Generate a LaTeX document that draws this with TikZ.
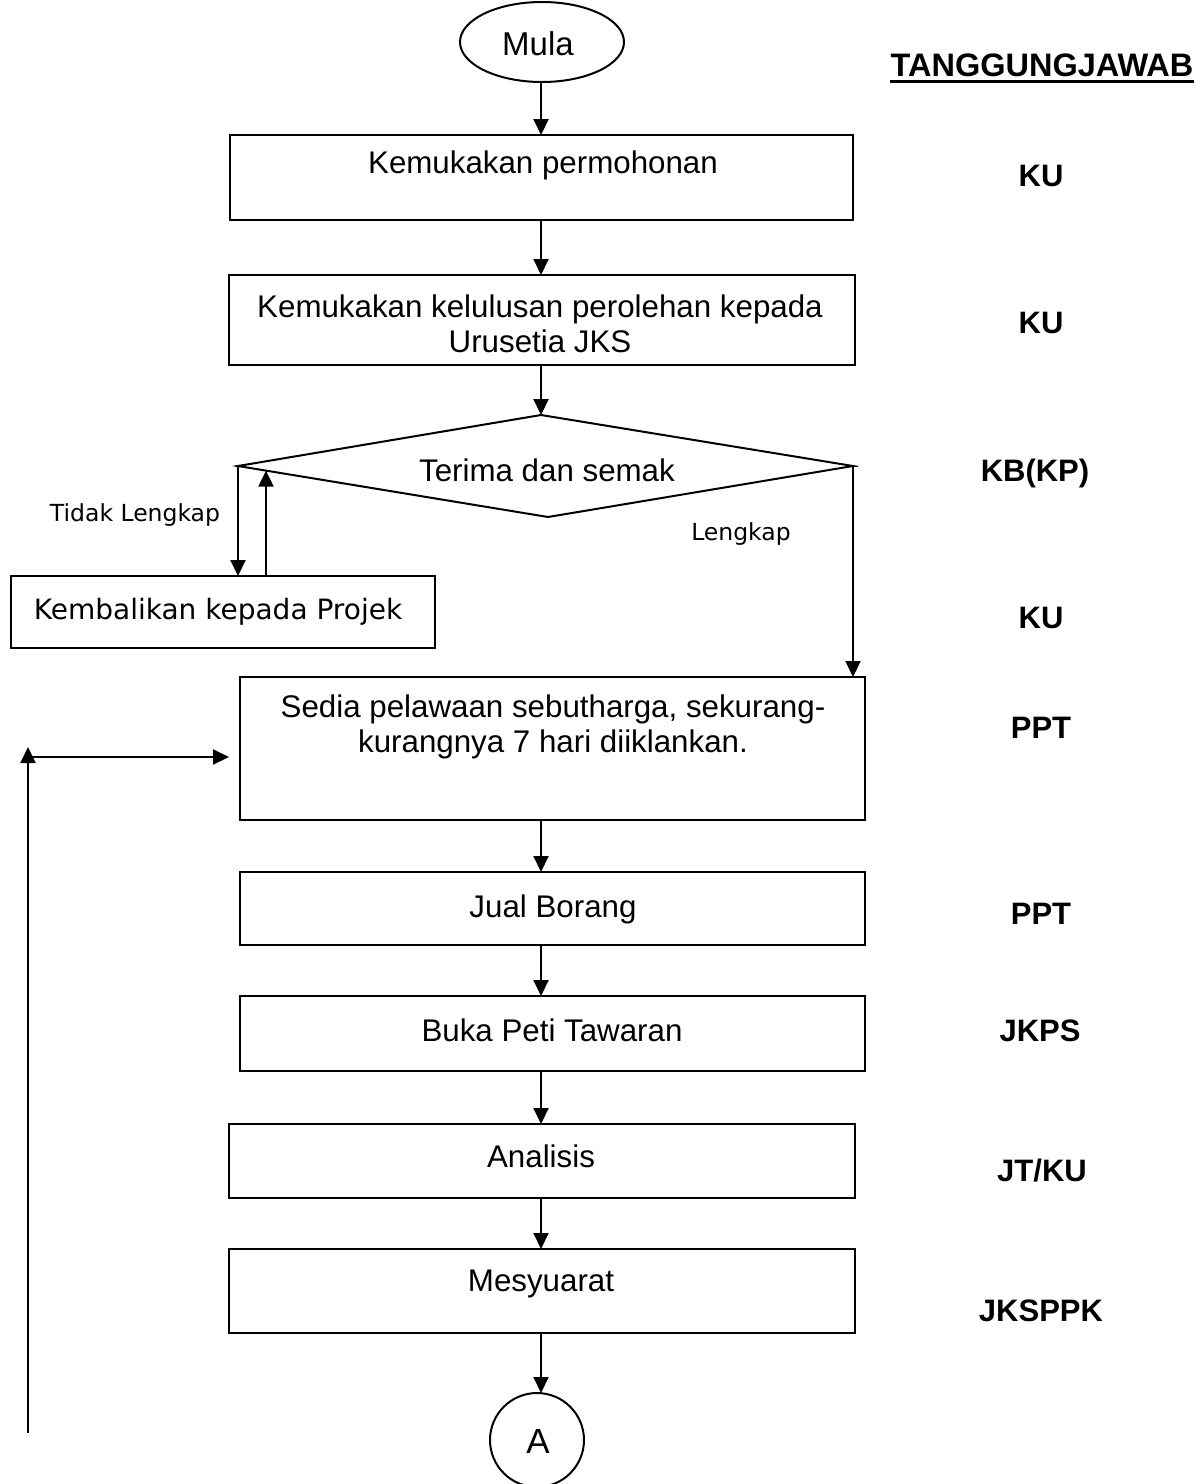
\documentclass[tikz,border=0pt]{standalone}
\usepackage{fontspec}
\setmainfont{Liberation Sans}
\newfontfamily\verdanalike{DejaVu Sans}
\usetikzlibrary{arrows.meta,calc,shapes.geometric}

\tikzset{
  box/.style={draw, line width=2pt, inner sep=0pt, outer sep=0pt},
  arr/.style={line width=2pt, -{Triangle[length=16pt,width=15pt]}},
  plain/.style={line width=2pt},
  txt/.style={anchor=base, inner sep=0pt, font=\fontsize{31.3}{36}\selectfont},
  smalltxt/.style={anchor=base, inner sep=0pt, font=\verdanalike\fontsize{23.5}{28}\selectfont},
  role/.style={anchor=base, inner sep=0pt, font=\bfseries\fontsize{31}{36}\selectfont}
}

\begin{document}
\begin{tikzpicture}[x=1pt,y=-1pt]
\useasboundingbox (0,0) rectangle (1203,1484);

% main flow axis
\coordinate (axis) at (541,0);

% start terminal
\node[box, ellipse, minimum width=164, minimum height=80] (mula) at (542,42) {};
\node[txt, font=\fontsize{33}{38}\selectfont] (tmula) at (538,55) {Mula};

% process boxes
\node[box, minimum width=623, minimum height=85] (b1) at (541.5,177.5) {};
\node[txt] (t1) at (543,173) {Kemukakan permohonan};

\node[box, minimum width=626, minimum height=90] (b2) at (542,320) {};
\node[txt] (t2a) at (540,317) {Kemukakan kelulusan perolehan kepada};
\node[txt] (t2b) at (540,352) {Urusetia JKS};

% decision
\coordinate (dT) at (541,415);
\coordinate (dL) at (238,466);
\coordinate (dR) at (853,466);
\coordinate (dB) at (548,517);
\draw[plain, line join=miter] (dT) -- (dR) -- (dB) -- (dL) -- cycle;
\draw[line width=1pt] (dR) -- ++(5,0);
\draw[line width=1pt] (dL) -- ++(-3,0);
\node[txt] (td) at (547,481) {Terima dan semak};

% return branch
\node[box, minimum width=424, minimum height=72] (k) at (223,612) {};
\node[font=\verdanalike\fontsize{28}{33}\selectfont, anchor=base, inner sep=0pt] (tk) at (218,619) {Kembalikan kepada Projek};
\node[smalltxt] (ttl) at (135,521) {Tidak Lengkap};
\node[smalltxt] (tl) at (741,540) {Lengkap};

\node[box, minimum width=625, minimum height=143] (b3) at (552.5,748.5) {};
\node[txt] (t3a) at (553,717) {Sedia pelawaan sebutharga, sekurang-};
\node[txt] (t3b) at (553,752) {kurangnya 7 hari diiklankan.};

\node[box, minimum width=625, minimum height=73] (b4) at (552.5,908.5) {};
\node[txt] (t4) at (553,917) {Jual Borang};

\node[box, minimum width=625, minimum height=75] (b5) at (552.5,1033.5) {};
\node[txt] (t5) at (552,1041) {Buka Peti Tawaran};

\node[box, minimum width=626, minimum height=74] (b6) at (542,1161) {};
\node[txt] (t6) at (541,1167) {Analisis};

\node[box, minimum width=626, minimum height=84] (b7) at (542,1291) {};
\node[txt] (t7) at (541,1291) {Mesyuarat};

% off-page connector
\node[box, circle, minimum size=94] (conA) at (537,1440) {};
\node[txt, font=\fontsize{35}{40}\selectfont] (tA) at (538,1453) {A};

% connectors
\draw[arr] (axis |- mula.south) -- (axis |- b1.north);
\draw[arr] (axis |- b1.south) -- (axis |- b2.north);
\draw[arr] (axis |- b2.south) -- (dT);
\draw[arr] (dL) -- (dL |- k.north);
\coordinate (upend) at ($(dL)!0.0903!(dB)$);
\draw[arr] (upend |- k.north) -- (upend);
\draw[arr] (dR) -- (dR |- b3.north);
\draw[arr] (axis |- b3.south) -- (axis |- b4.north);
\draw[arr] (axis |- b4.south) -- (axis |- b5.north);
\draw[arr] (axis |- b5.south) -- (axis |- b6.north);
\draw[arr] (axis |- b6.south) -- (axis |- b7.north);
\draw[arr] (axis |- b7.south) -- (axis |- conA.north);

% loop back into the tender step
\coordinate (fbbot) at (28,1433);
\coordinate (fbtop) at (28,747);
\coordinate (fbmid) at (28,757);
\draw[arr] (fbbot) -- (fbtop);
\draw[arr, shorten >=11pt] (fbmid) -- (fbmid -| b3.west);

% responsibility column
\node[role, font=\bfseries\fontsize{32.5}{38}\selectfont] (hdr) at (1042,76) {TANGGUNGJAWAB};
\draw[line width=3pt] ([yshift=-5pt]hdr.base west) -- ([yshift=-5pt]hdr.base east);
\node[role] (r1) at (1041,186) {KU};
\node[role] (r2) at (1041,333) {KU};
\node[role] (r3) at (1035,481) {KB(KP)};
\node[role] (r4) at (1041,628) {KU};
\node[role] (r5) at (1041,738) {PPT};
\node[role] (r6) at (1041,924) {PPT};
\node[role] (r7) at (1040,1041) {JKPS};
\node[role] (r8) at (1042,1181) {JT/KU};
\node[role] (r9) at (1041,1321) {JKSPPK};
\end{tikzpicture}
\end{document}
